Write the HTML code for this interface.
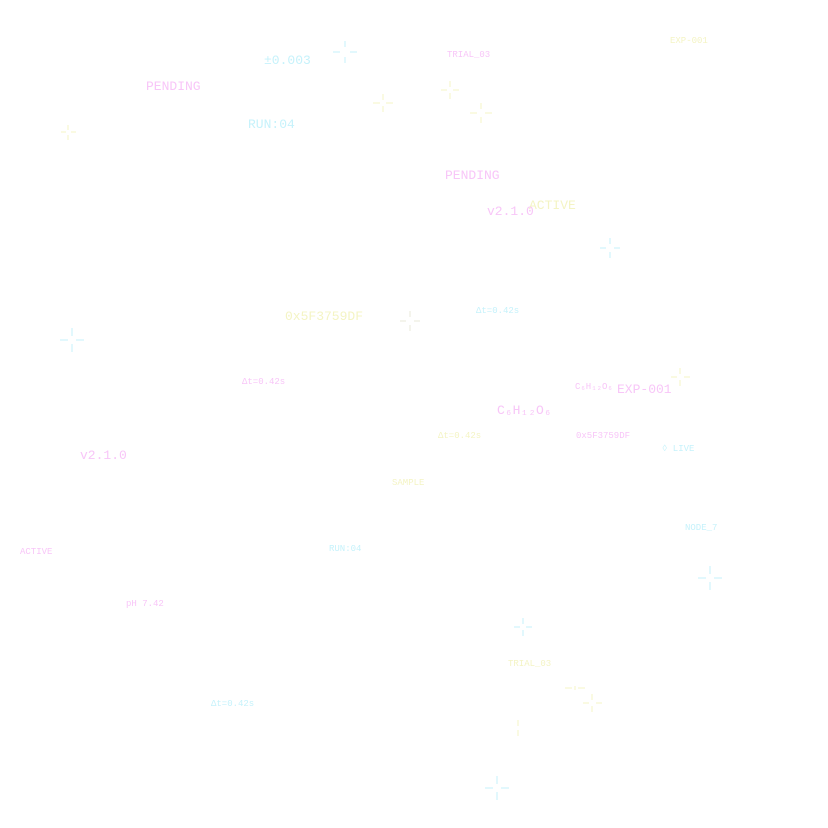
<!DOCTYPE html>
<html><head><meta charset="utf-8"><style>
body{margin:0;width:828px;height:828px;background:#fff;position:relative;overflow:hidden;font-family:"Liberation Mono",monospace}
.t{position:absolute;white-space:nowrap;line-height:1}
.p{color:#f8c6f8}.c{color:#c6f2fb}.y{color:#f4f4c4}
.L{font-size:13px}.S{font-size:9px}
svg{position:absolute;left:0;top:0}
</style></head><body>
<div class="t c L" style="left:264px;top:54px">±0.003</div>
<div class="t p S" style="left:447px;top:51px">TRIAL_03</div>
<div class="t y S" style="left:670px;top:37px">EXP-001</div>
<div class="t p L" style="left:146px;top:80px">PENDING</div>
<div class="t c L" style="left:248px;top:118px">RUN:04</div>
<div class="t p L" style="left:445px;top:169px">PENDING</div>
<div class="t y L" style="left:529px;top:199px">ACTIVE</div>
<div class="t p L" style="left:487px;top:205px">v2.1.0</div>
<div class="t y L" style="left:285px;top:310px">0x5F3759DF</div>
<div class="t c S" style="left:476px;top:307px">Δt=0.42s</div>
<div class="t p S" style="left:242px;top:378px">Δt=0.42s</div>
<div class="t p S" style="left:575px;top:383px">C₆H₁₂O₆</div>
<div class="t p L" style="left:617px;top:383px">EXP-001</div>
<div class="t p L" style="left:497px;top:404px">C₆H₁₂O₆</div>
<div class="t y S" style="left:438px;top:432px">Δt=0.42s</div>
<div class="t p S" style="left:576px;top:432px">0x5F3759DF</div>
<div class="t c S" style="left:662px;top:445px">◊ LIVE</div>
<div class="t p L" style="left:80px;top:449px">v2.1.0</div>
<div class="t y S" style="left:392px;top:479px">SAMPLE</div>
<div class="t c S" style="left:685px;top:524px">NODE_7</div>
<div class="t p S" style="left:20px;top:548px">ACTIVE</div>
<div class="t c S" style="left:329px;top:545px">RUN:04</div>
<div class="t p S" style="left:126px;top:600px">pH 7.42</div>
<div class="t y S" style="left:508px;top:660px">TRIAL_03</div>
<div class="t c S" style="left:211px;top:700px">Δt=0.42s</div>
<svg width="828" height="828" fill="none" stroke-width="1">
<g stroke="#c6f2fb">
<path d="M345 41v6M345 57v6M333 52h7M350 52h7"/>
<path d="M610 238v6M610 252v6M600 248h6M614 248h6"/>
<path d="M72 328v8M72 344v8M60 340h8M76 340h8"/>
<path d="M710 566v8M710 582v8M698 578h8M714 578h8"/>
<path d="M523 618v6M523 630v6M514 627h6M526 627h6"/>
<path d="M497 776v8M497 792v8M485 788h8M501 788h8"/>
</g>
<g stroke="#f4f4c4">
<path d="M383 94v6M383 106v6M373 103h7M386 103h7"/>
<path d="M450 81v6M450 93v6M441 90h6M453 90h6"/>
<path d="M481 103v6M481 117v6M470 113h7M485 113h7"/>
<path d="M68 125v5M68 135v5M61 132h5M71 132h5"/>
<path d="M680 368v6M680 380v6M671 377h6M684 377h6"/>
<path d="M575 686v4M565 688h7M578 688h7"/>
<path d="M592 694v6M592 706v6M583 703h6M596 703h6"/>
<path d="M518 720v6M518 730v6"/>
</g>
<g stroke="#e8e8d8">
<path d="M410 311v6M410 325v6M400 321h6M414 321h6"/>
</g>
</svg>
</body></html>
